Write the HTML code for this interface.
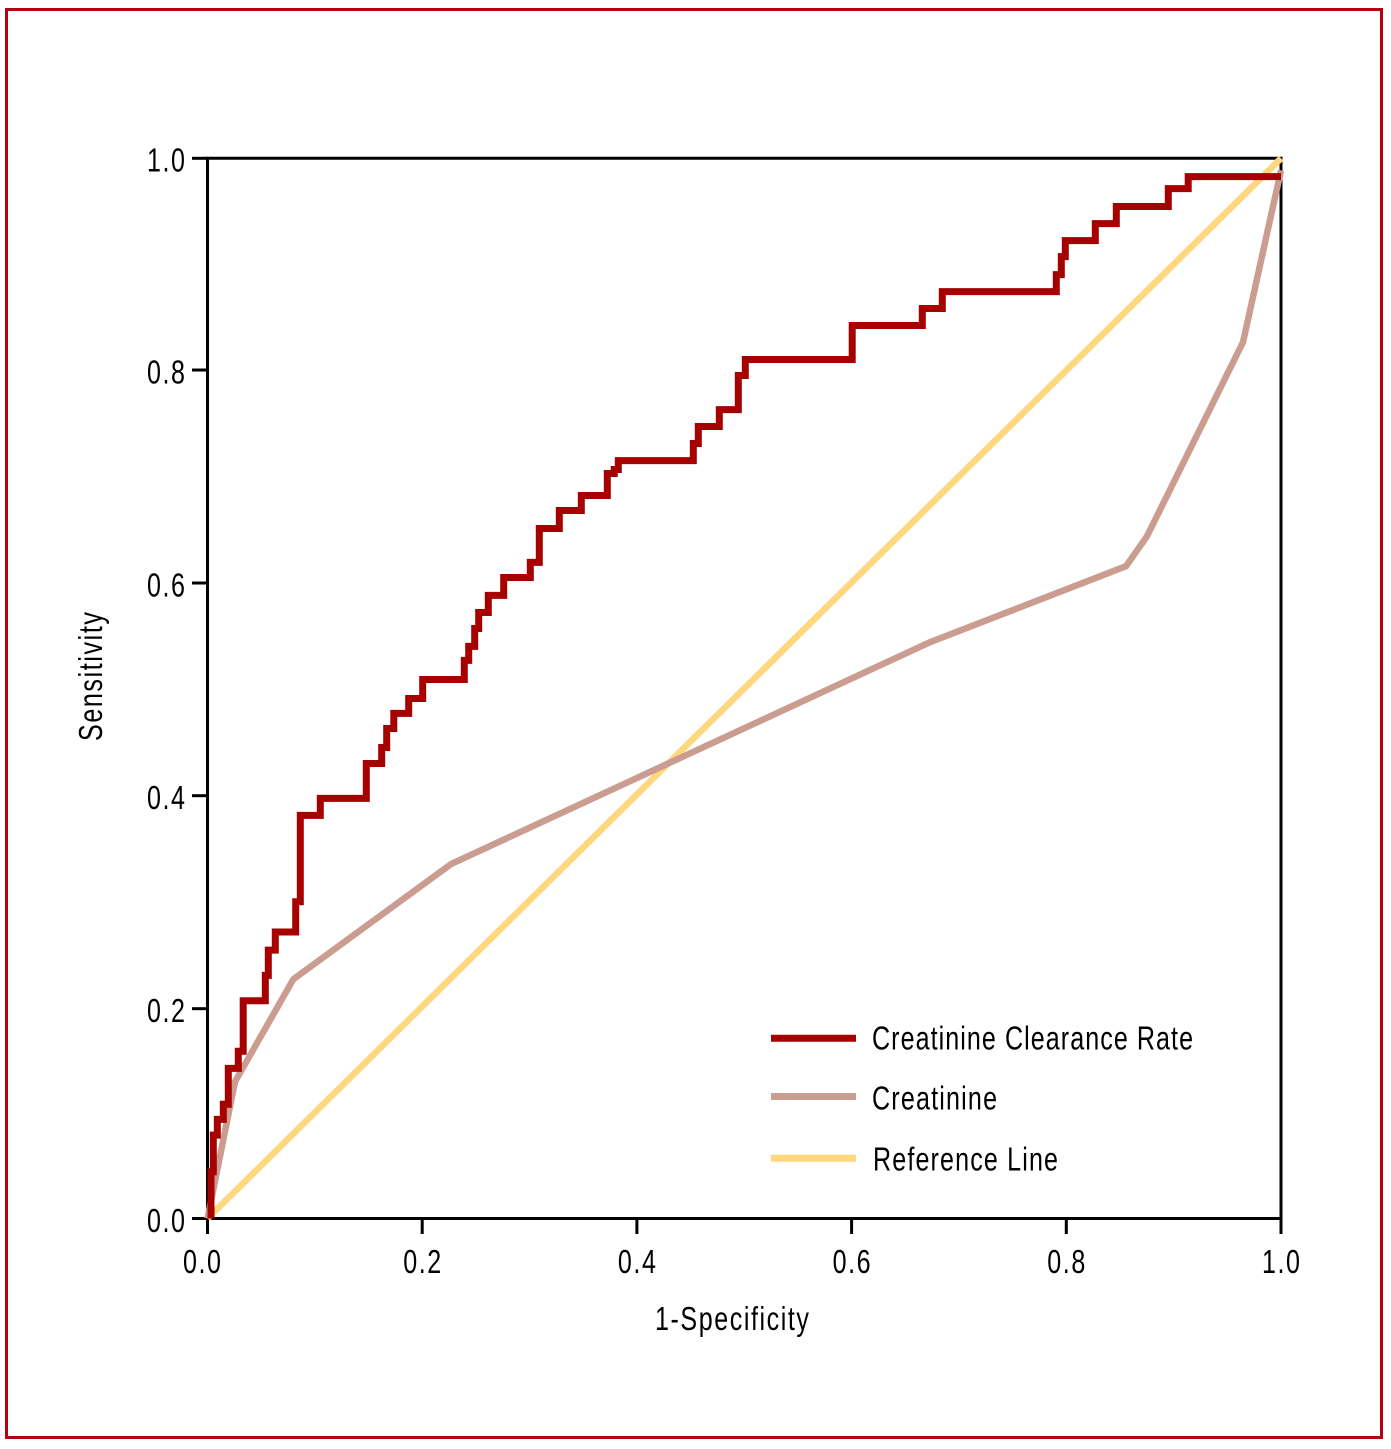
<!DOCTYPE html>
<html lang="en">
<head>
<meta charset="utf-8">
<title>ROC curve</title>
<style>
html,body{margin:0;padding:0;background:#fff;}
body{width:1391px;height:1449px;overflow:hidden;position:relative;}
svg{display:block;position:absolute;left:0;top:0;}
text{font-family:"Liberation Sans",sans-serif;fill:#000;}
</style>
</head>
<body>
<svg id="chart" width="1391" height="1449" viewBox="0 0 1391 1449" xmlns="http://www.w3.org/2000/svg">
  <rect x="6.5" y="9.5" width="1375" height="1428" fill="#fff" stroke="#b5000f" stroke-width="3"/>
</svg>
<script>
const xTickValues = [0, 0.2, 0.4, 0.6, 0.8, 1.0];
const yTickValues = [0, 0.1979, 0.3988, 0.5994, 0.8003, 1.0];
const xTickLabels = ["0.0", "0.2", "0.4", "0.6", "0.8", "1.0"];
const yTickLabels = ["0.0", "0.2", "0.4", "0.6", "0.8", "1.0"];

const clearanceX = [0.0033,0.0054,0.0091,0.0147,0.0194,0.0287,0.0333,0.0538,0.0566,0.0632,0.0822,0.0864,0.1051,0.1479,0.1623,0.1669,0.1735,0.1874,0.2005,0.2392,0.2433,0.2489,0.2526,0.2616,0.2759,0.3007,0.3091,0.3277,0.3482,0.3724,0.3789,0.3827,0.4525,0.4572,0.4768,0.4945,0.5010,0.6006,0.6659,0.6845,0.7907,0.7953,0.7991,0.8270,0.8466,0.8950,0.9136,1.0];
const clearanceY = [0.0441,0.0787,0.0935,0.1077,0.1416,0.1577,0.2054,0.2293,0.2532,0.2702,0.2987,0.3802,0.3962,0.4292,0.4443,0.4622,0.4764,0.4905,0.5084,0.5264,0.5396,0.5565,0.5716,0.5877,0.6046,0.6188,0.6508,0.6678,0.6819,0.7027,0.7065,0.7149,0.7310,0.7470,0.7630,0.7951,0.8102,0.8423,0.8583,0.8743,0.8903,0.9073,0.9224,0.9384,0.9545,0.9714,0.9827,0.9827];

const creatinineX = [0,0.0256,0.0799,0.2268,0.6730,0.8556,0.8752,0.9646,1.0];
const creatinineY = [0,0.1290,0.2256,0.3343,0.5436,0.6153,0.6436,0.8265,0.9887];

const referenceX = [0,1];
const referenceY = [0,1];

const NS = "http://www.w3.org/2000/svg";
const svg = document.getElementById("chart");
const plotLeft = 207.5, plotRight = 1281, plotTop = 158.3, plotBottom = 1218.5;
function xScale(v){ return plotLeft + v * (plotRight - plotLeft); }
function yScale(v){ return plotBottom - v * (plotBottom - plotTop); }

function make(tag, attrs, text){
  const el = document.createElementNS(NS, tag);
  for (const k in attrs) el.setAttribute(k, attrs[k]);
  if (text !== undefined) el.textContent = text;
  svg.appendChild(el);
  return el;
}
const AX = {stroke:"#000","stroke-width":3,fill:"none"};
const FS = 33;
const SQUEEZE = 0.76;
function wideText(str, x, y, width, rotate){
  const t = `translate(${x} ${y})` + (rotate ? " rotate(-90)" : "") + ` scale(${SQUEEZE} 1)`;
  return make("text", {x:0,y:0,"font-size":FS,textLength:(width / SQUEEZE).toFixed(1),lengthAdjust:"spacing",transform:t}, str);
}

const axisBox = make("path", Object.assign({d:`M${plotLeft} ${plotTop}H${plotRight}V${plotBottom}H${plotLeft}Z`}, AX));



xTickValues.forEach((v, i) => {
  const px = xScale(v);
  const tick = make("line", Object.assign({x1:px,x2:px,y1:plotBottom,y2:1234}, AX));
  
  
  const cx = (i === 0 ? px - 5.5 : px) - 19;
  const label = wideText(xTickLabels[i], cx, 1273, 38, false);
  
  
});

yTickValues.forEach((v, i) => {
  const py = yScale(v);
  const tick = make("line", Object.assign({x1:192,x2:plotLeft,y1:py,y2:py}, AX));
  
  
  const label = wideText(yTickLabels[i], 147, py + 13.3, 38, false);
  
  
});

function polyPath(xs, ys){
  return xs.map((x, i) => (i ? "L" : "M") + xScale(x).toFixed(1) + " " + yScale(ys[i]).toFixed(1)).join("");
}
function stepPath(xs, ys){
  let d = "M" + xScale(xs[0]).toFixed(1) + " " + yScale(0).toFixed(1);
  xs.forEach((x, i) => {
    d += "H" + xScale(x).toFixed(1) + "V" + yScale(ys[i]).toFixed(1);
  });
  return d;
}

const refLine = make("path", {d:polyPath(referenceX, referenceY),fill:"none",stroke:"#fed77e","stroke-width":6.5});



const creatLine = make("path", {d:polyPath(creatinineX, creatinineY),fill:"none",stroke:"#cb9d90","stroke-width":6.5,"stroke-linejoin":"round"});



const clearLine = make("path", {d:stepPath(clearanceX, clearanceY),fill:"none",stroke:"#a60000","stroke-width":7,"stroke-linejoin":"miter"});



const xTitle = wideText("1-Specificity", 655, 1330, 154, false);



const yTitle = wideText("Sensitivity", 102, 741, 129, true);



const legendRed = make("line", {x1:771,x2:856,y1:1038.3,y2:1038.3,stroke:"#a60000","stroke-width":7});


const legendTan = make("line", {x1:771,x2:856,y1:1096.5,y2:1096.5,stroke:"#cb9d90","stroke-width":7});


const legendYellow = make("line", {x1:771,x2:856,y1:1158.3,y2:1158.3,stroke:"#fed77e","stroke-width":7});



const legendText1 = wideText("Creatinine Clearance Rate", 872, 1049.5, 321, false);


const legendText2 = wideText("Creatinine", 872, 1109.5, 125, false);


const legendText3 = wideText("Reference Line", 873, 1170.5, 185, false);


</script>
</body>
</html>
